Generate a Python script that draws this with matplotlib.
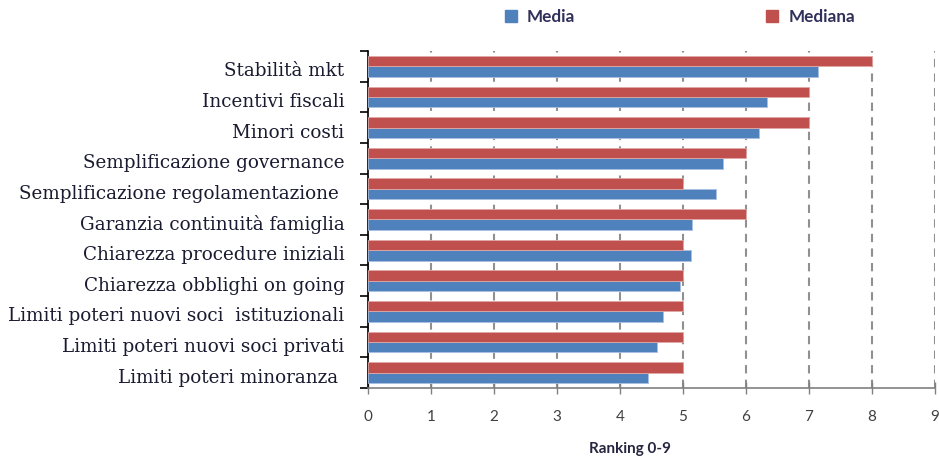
import numpy as np
import matplotlib
matplotlib.use("Agg")
import matplotlib.pyplot as plt
import matplotlib.transforms as mtransforms
from matplotlib.patches import Patch

# fattori di scelta, dal basso verso l'alto
categorie = [
    "Limiti poteri minoranza ",
    "Limiti poteri nuovi soci privati",
    "Limiti poteri nuovi soci  istituzionali",
    "Chiarezza obblighi on going",
    "Chiarezza procedure iniziali",
    "Garanzia continuità famiglia",
    "Semplificazione regolamentazione ",
    "Semplificazione governance",
    "Minori costi",
    "Incentivi fiscali",
    "Stabilità mkt",
]
media = [4.45, 4.58, 4.68, 4.96, 5.12, 5.15, 5.53, 5.63, 6.20, 6.33, 7.15]
mediana = [5, 5, 5, 5, 5, 6, 5, 6, 7, 7, 8]
x_ticks = list(range(0, 10))

blu = "#4F81BD"
rosso = "#C0504D"

fig = plt.figure(figsize=(9.39, 4.61), dpi=100)
ax = fig.add_axes([368 / 939, 1 - 388 / 461, (935 - 368) / 939, (388 - 51) / 461])

y = np.arange(len(categorie))
h = 0.34
ax.barh(y - h / 2, media, height=h, color=blu, edgecolor="#A9C0E0", linewidth=0.6,
        zorder=3, label="Media")
ax.barh(y + h / 2, mediana, height=h, color=rosso, edgecolor="#E0A9A8", linewidth=0.6,
        zorder=3, label="Mediana")

ax.set_xlim(0, 9)
ax.set_ylim(-0.5, len(categorie) - 0.5)
ax.set_xticks(x_ticks)
ax.set_xticklabels([str(t) for t in x_ticks], family="Lato", fontsize=11, color="#404040")
ax.tick_params(axis="x", direction="inout", length=8, width=1, color="#808080", pad=12)

# etichette al centro, tacche sui bordi delle categorie
ax.set_yticks(y)
ax.set_yticklabels(categorie, family="DejaVu Serif", fontsize=13.2, color="#1a1a30")
ax.tick_params(axis="y", which="major", length=0, pad=17)
shift = mtransforms.ScaledTranslation(0, -3 / 100, fig.dpi_scale_trans)
for lab in ax.get_yticklabels():
    lab.set_transform(lab.get_transform() + shift)
ax.set_yticks(np.arange(-0.5, len(categorie)), minor=True)
ax.tick_params(axis="y", which="minor", direction="out", length=6, width=1.2, color="black")

ax.grid(axis="x", linestyle=(0, (4, 3)), color="#909090", linewidth=1.5, zorder=0)
for s in ["top", "right"]:
    ax.spines[s].set_visible(False)
ax.spines["left"].set_color("black")
ax.spines["left"].set_linewidth(1.2)
ax.spines["bottom"].set_color("#808080")
ax.spines["bottom"].set_linewidth(1.2)

ax.set_xlabel("Ranking 0-9", family="Lato", fontsize=11, fontweight="bold", color="#262640")
ax.xaxis.set_label_coords((630 - 368) / (935 - 368), -0.16)

handles = [Patch(color=blu, label="Media"), Patch(color=rosso, label="Mediana")]
fig.legend(handles=handles, loc="center", bbox_to_anchor=(680 / 939, 1 - 17 / 461), ncol=2,
           frameon=False, columnspacing=11.2, handlelength=0.7, handleheight=0.7,
           handletextpad=0.6, prop={"family": "Lato", "size": 12.3, "weight": "bold"},
           labelcolor="#30305a")

fig.savefig("out.png", dpi=100)
